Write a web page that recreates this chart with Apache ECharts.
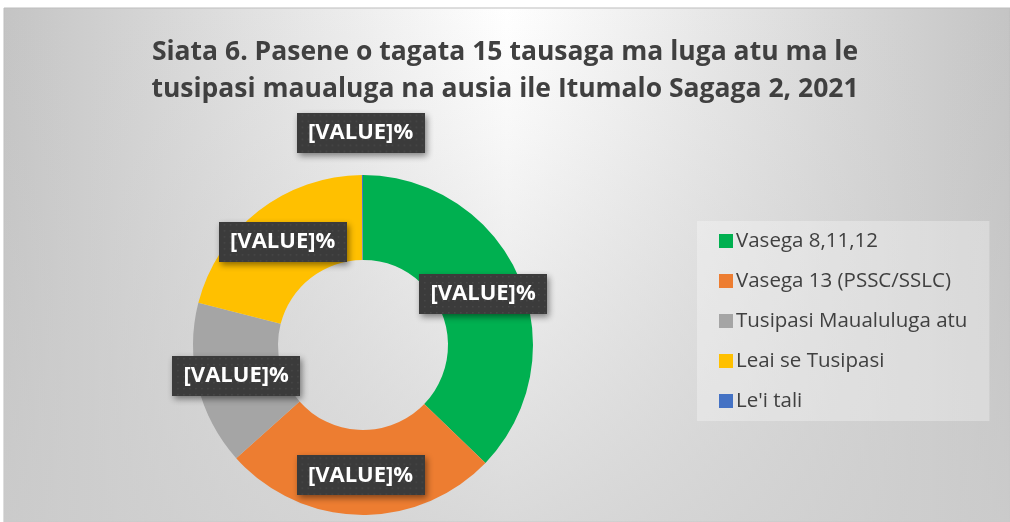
<!DOCTYPE html>
<html>
<head>
<meta charset="utf-8">
<script src="https://cdn.jsdelivr.net/npm/echarts@6/dist/echarts.min.js"></script>
<style>
  html, body { margin: 0; padding: 0; background: #fff; }
  #main { width: 1010px; height: 522px; }
</style>
</head>
<body>
<div id="main"></div>
<script>
// data (degrees of each slice / 3.6)
var categories = ['Vasega 8,11,12', 'Vasega 13 (PSSC/SSLC)', 'Tusipasi Maualuluga atu', 'Leai se Tusipasi', "Le'i tali"];
var values = [37.2, 26.2, 15.6, 20.9, 0.1];
var colors = ['#00b050', '#ed7d31', '#a5a5a5', '#ffc000', '#4472c4'];
var titleText = 'Siata 6. Pasene o tagata 15 tausaga ma luga atu ma le\ntusipasi maualuga na ausia ile Itumalo Sagaga 2, 2021';

// dotted dark box behind the labels
function makeLabelBg(w, h) {
  var c = document.createElement('canvas');
  c.width = w; c.height = h;
  var ctx = c.getContext('2d');
  ctx.fillStyle = '#3b3b3b';
  ctx.fillRect(0, 0, w, h);
  ctx.fillStyle = '#4a4a4a';
  for (var y = 2; y < h; y += 6) {
    for (var x = ((y / 6) % 2 ? 5 : 2); x < w; x += 6) {
      ctx.fillRect(x, y, 1.5, 1.5);
    }
  }
  return c;
}
var labelBg = makeLabelBg(128, 40);

var chart = echarts.init(document.getElementById('main'));

var pieData = [];
for (var i = 0; i < categories.length; i++) {
  var item = { name: categories[i], value: values[i], itemStyle: { color: colors[i] } };
  if (i === 4) {
    item.label = { offset: [-2, -82] };
  }
  pieData.push(item);
}

var option = {
  animation: false,
  graphic: [{
    type: 'rect',
    z: -10,
    shape: { x: 4, y: 8, width: 1006, height: 514 },
    style: {
      fill: new echarts.graphic.LinearGradient(0, 0, 1, 0, [
        { offset: 0, color: '#c4c4c4' },
        { offset: 0.5, color: '#ffffff' },
        { offset: 1, color: '#c4c4c4' }
      ]),
      stroke: '#bdbdbd',
      lineWidth: 1
    }
  }, {
    type: 'rect',
    z: -9,
    shape: { x: 4, y: 8, width: 1006, height: 514 },
    style: {
      fill: new echarts.graphic.LinearGradient(0, 0, 0, 1, [
        { offset: 0, color: 'rgba(205,205,205,0)' },
        { offset: 0.25, color: 'rgba(205,205,205,0.15)' },
        { offset: 1, color: 'rgba(205,205,205,0.75)' }
      ])
    }
  }],
  title: {
    text: titleText,
    left: 'center',
    top: 29,
    textStyle: {
      fontFamily: 'Open Sans',
      fontWeight: 'bold',
      fontSize: 26.5,
      lineHeight: 37,
      color: '#404040'
    }
  },
  legend: {
    orient: 'vertical',
    left: 697,
    top: 221,
    padding: [9, 22, 9, 22],
    backgroundColor: 'rgba(255,255,255,0.3)',
    itemWidth: 14,
    itemHeight: 14,
    itemGap: 18,
    icon: 'rect',
    data: categories,
    textStyle: {
      fontFamily: 'Open Sans',
      fontSize: 20.5,
      lineHeight: 22,
      color: '#404040',
      padding: [0, 0, 0, -2]
    }
  },
  series: [{
    type: 'pie',
    center: [363, 345],
    radius: [85, 170],
    startAngle: 90,
    clockwise: true,
    avoidLabelOverlap: false,
    labelLine: { show: false },
    label: {
      show: true,
      position: 'inside',
      formatter: '[VALUE]%',
      fontFamily: 'Open Sans',
      fontWeight: 'bold',
      fontSize: 22,
      color: '#ffffff',
      width: 108,
      height: 24,
      align: 'center',
      padding: [8, 10],
      backgroundColor: { image: labelBg },
      shadowColor: 'rgba(0,0,0,0.45)',
      shadowBlur: 6,
      shadowOffsetX: 2,
      shadowOffsetY: 3
    },
    emphasis: { disabled: true },
    data: pieData
  }]
};

chart.setOption(option);
</script>
</body>
</html>
